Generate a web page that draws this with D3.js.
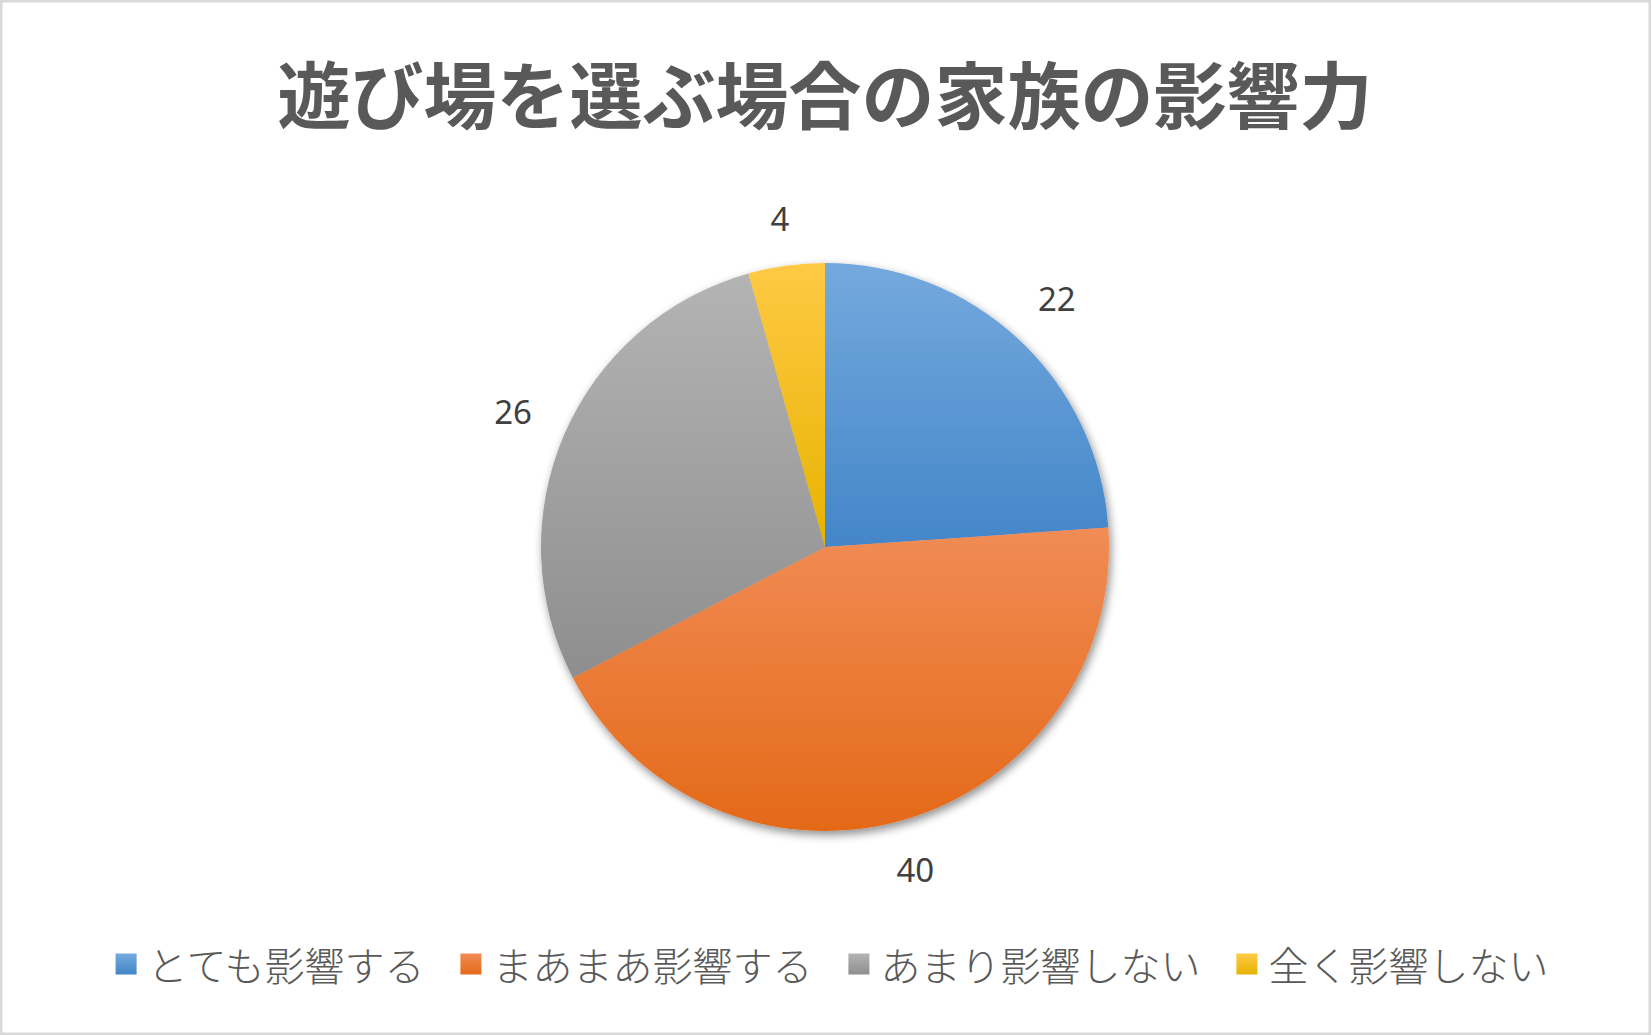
<!DOCTYPE html>
<html>
<head>
<meta charset="utf-8">
<script src="https://cdn.jsdelivr.net/npm/d3@7"></script>
<style>
  html, body { margin: 0; padding: 0; background: #fff; }
  svg { display: block; }
</style>
</head>
<body>
<svg id="chart" width="1651" height="1035"></svg>
<script>
// chart data
var title = "遊び場を選ぶ場合の家族の影響力";
var categories = ["とても影響する", "まあまあ影響する", "あまり影響しない", "全く影響しない"];
var values = [22, 40, 26, 4];
// slice colours (top of gradient, bottom of gradient)
var colorsTop = ["#74a9dd", "#f18c55", "#b4b4b4", "#ffc944"];
var colorsBottom = ["#4386c9", "#e46918", "#8e8e8e", "#e6b300"];

var W = 1651, H = 1035;
var cx = 825, cy = 547, radius = 284;

var svg = d3.select("#chart");

// border round the chart area
svg.append("rect")
    .attr("x", 1.25).attr("y", 1.25)
    .attr("width", W - 2.5).attr("height", H - 2.5)
    .attr("fill", "#fff")
    .attr("stroke", "#d9d9d9")
    .attr("stroke-width", 2.5);

var defs = svg.append("defs");

// soft shadow under the pie
var shadow = defs.append("filter").attr("id", "pieShadow")
    .attr("x", "-20%").attr("y", "-20%").attr("width", "140%").attr("height", "140%");
shadow.append("feGaussianBlur").attr("in", "SourceAlpha").attr("stdDeviation", 5).attr("result", "blur");
shadow.append("feOffset").attr("in", "blur").attr("dx", 2).attr("dy", 4).attr("result", "off");
shadow.append("feComponentTransfer").attr("in", "off").attr("result", "shade")
    .append("feFuncA").attr("type", "linear").attr("slope", 0.45);
var merge = shadow.append("feMerge");
merge.append("feMergeNode").attr("in", "shade");
merge.append("feMergeNode").attr("in", "SourceGraphic");

// one vertical gradient per slice
categories.forEach(function(c, i) {
    var g = defs.append("linearGradient").attr("id", "grad" + i)
        .attr("x1", 0).attr("y1", 0).attr("x2", 0).attr("y2", 1);
    g.append("stop").attr("offset", "0%").attr("stop-color", colorsTop[i]);
    g.append("stop").attr("offset", "100%").attr("stop-color", colorsBottom[i]);
});

// title
svg.append("text")
    .attr("x", cx).attr("y", 91)
    .attr("text-anchor", "middle")
    .attr("dominant-baseline", "central")
    .attr("font-family", "'Noto Sans CJK JP', sans-serif")
    .attr("font-weight", "bold")
    .attr("font-size", 73)
    .attr("fill", "#595959")
    .text(title);

var pie = d3.pie().sort(null).value(function(d) { return d; });
var arcs = pie(values);
var arc = d3.arc().innerRadius(0).outerRadius(radius);

var pieG = svg.append("g")
    .attr("transform", "translate(" + cx + "," + cy + ")")
    .attr("filter", "url(#pieShadow)");

pieG.selectAll("path")
    .data(arcs)
    .enter()
    .append("path")
    .attr("d", arc)
    .attr("fill", function(d, i) { return "url(#grad" + i + ")"; });

// data labels outside the slices: the label box sits a fixed gap past the rim
var labelGap = 34;
var labels = svg.append("g")
    .attr("transform", "translate(" + cx + "," + cy + ")")
    .selectAll("text")
    .data(arcs)
    .enter()
    .append("text")
    .attr("text-anchor", "middle")
    .attr("dominant-baseline", "central")
    .attr("font-family", "'Noto Sans', sans-serif")
    .attr("font-size", 33)
    .attr("fill", "#404040")
    .text(function(d) { return d.data; });

labels.each(function(d) {
    var a = (d.startAngle + d.endAngle) / 2;
    var hw = this.getComputedTextLength() / 2, hh = 12;
    var r = radius + labelGap + Math.abs(Math.sin(a)) * hw + Math.abs(Math.cos(a)) * hh;
    d3.select(this)
        .attr("x", Math.sin(a) * r)
        .attr("y", -Math.cos(a) * r);
});

// legend along the bottom
var legendY = 964;
var textOffset = 32, itemGap = 36;
var legend = svg.append("g");
var items = legend.selectAll("g")
    .data(categories)
    .enter()
    .append("g");

items.append("rect")
    .attr("width", 21).attr("height", 21)
    .attr("y", legendY - 10.5)
    .attr("fill", function(d, i) { return "url(#grad" + i + ")"; });

items.append("text")
    .attr("x", textOffset)
    .attr("y", legendY)
    .attr("dominant-baseline", "central")
    .attr("font-family", "'Noto Sans CJK JP', sans-serif")
    .attr("font-weight", 300)
    .attr("font-size", 40)
    .attr("fill", "#595959")
    .text(function(d) { return d; });

var xPos = 0, widths = [];
items.each(function() {
    widths.push(textOffset + d3.select(this).select("text").node().getComputedTextLength());
});
var total = d3.sum(widths) + itemGap * (widths.length - 1);
var startX = 832 - total / 2;
items.attr("transform", function(d, i) {
    var x = startX + xPos;
    xPos += widths[i] + itemGap;
    return "translate(" + x + ",0)";
});
</script>
</body>
</html>
